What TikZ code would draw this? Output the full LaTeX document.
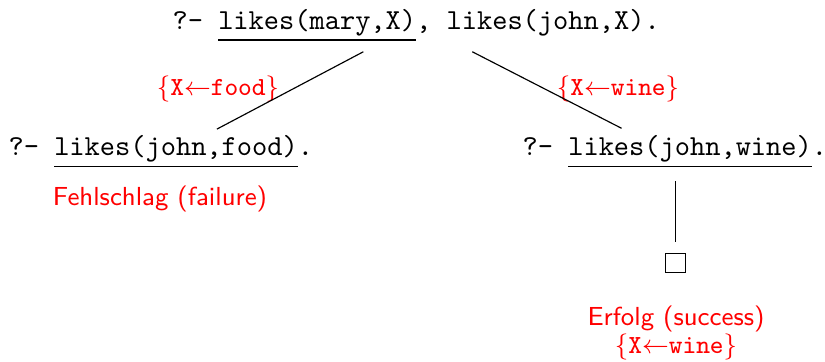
\documentclass[tikz,border=0pt]{standalone}
\usepackage{amsmath,amssymb}
\usetikzlibrary{calc,positioning}

\tikzset{
  goal/.style={inner sep=0pt, anchor=base west, font=\ttfamily},
  subst/.style={inner sep=0pt, anchor=base, text=red, font=\small},
  note/.style={inner sep=0pt, anchor=base, text=red, font=\small\sffamily, align=center},
  emptygoal/.style={draw, inner sep=0pt, minimum size=6.7pt, line width=0.4pt},
  branch/.style={line width=0.4pt}
}

\begin{document}
\begin{tikzpicture}
\useasboundingbox (0,0) rectangle (10,4.376);

% Anfrage und Resolventen
\node[goal] (query) at (2.085,4.021) {?- \underline{likes(mary,X)}, likes(john,X).};
\node[goal] (left)  at (0.097,2.485) {?- \underline{likes(john,food)}.};
\node[goal] (right) at (6.328,2.485) {?- \underline{likes(john,wine)}.};
\node[emptygoal] (box) at (8.188,1.188) {};

% Substitutionen
\node[subst] (substfood) at (2.642,3.215) {$\{\mathtt{X}{\leftarrow}\mathtt{food}\}$};
\node[subst] (substwine) at (7.491,3.215) {$\{\mathtt{X}{\leftarrow}\mathtt{wine}\}$};

% Ergebnisse
\node[note] (failure) at (1.94,1.879) {Fehlschlag (failure)};
\node[note] (success) at (8.194,0.436) {Erfolg (success)};
\node[subst] (answer) at (8.194,0.09) {$\{\mathtt{X}{\leftarrow}\mathtt{wine}\}$};

\draw[branch] ($(query.south)+(-0.64,-0.115)$) -- ($(left.north)+(0.68,0.075)$);
\draw[branch] ($(query.south)+(0.68,-0.115)$) -- ($(right.north)+(-0.647,0.085)$);
\draw[branch] ($(right.south -| box.north)+(0,-0.15)$) -- ($(box.north)+(0,0.13)$);
\end{tikzpicture}
\end{document}
